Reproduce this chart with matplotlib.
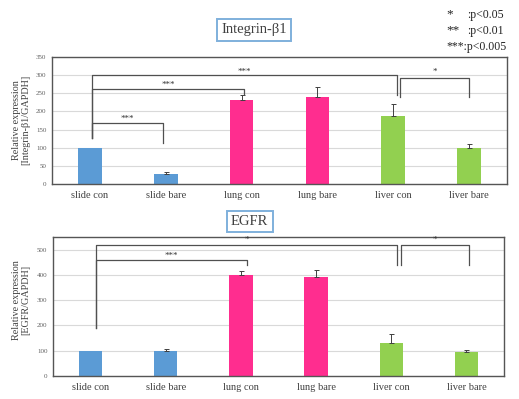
import matplotlib
matplotlib.use("Agg")
import matplotlib.pyplot as plt

categories = ["slide con", "slide bare", "lung con", "lung bare", "liver con", "liver bare"]
colors = ["#5b9bd5", "#5b9bd5", "#ff2d8f", "#ff2d8f", "#92d050", "#92d050"]

itg_values = [100, 28, 231, 240, 188, 99]
itg_err = [0, 6, 13, 27, 32, 10]
egfr_values = [100, 100, 401, 392, 130, 94]
egfr_err = [0, 6, 15, 28, 36, 7]

# brackets: (x1, x2, y_left_start, y_top, y_right_end, label, label_y)
itg_brackets = [
    (0.03, 0.96, 128, 167, 112, "***", 180),
    (0.03, 2.03, 128, 263, 247, "***", 272),
    (0.03, 4.05, 128, 300, 245, "***", 310),
    (4.09, 5.0, 240, 293, 240, "*", 310),
]
egfr_brackets = [
    (0.07, 4.08, 190, 517, 439, "*", 540),
    (0.07, 2.08, 190, 460, 440, "***", 476),
    (4.13, 5.04, 440, 517, 440, "*", 540),
]

serif = ["Liberation Serif", "DejaVu Serif"]
plt.rcParams["font.family"] = serif

fig = plt.figure(figsize=(5.19, 3.99), dpi=100)
ax1 = fig.add_axes([52/519, 1-184/399, 455/519, 127/399])
ax2 = fig.add_axes([53/519, 1-376/399, 451/519, 139/399])

line_c = "#505050"

def draw(ax, vals, errs, ymax, step, brackets):
    x = list(range(len(categories)))
    ax.set_axisbelow(True)
    ax.yaxis.grid(True, color="#d9d9d9", linewidth=0.8)
    ax.bar(x, vals, width=0.31, color=colors, zorder=2)
    ex = [xi for xi, e in zip(x, errs) if e > 0]
    ev = [v for v, e in zip(vals, errs) if e > 0]
    ee = [e for e in errs if e > 0]
    ax.errorbar(ex, ev, yerr=[[0]*len(ee), ee], fmt="none", ecolor="#404040",
                elinewidth=0.7, capsize=1.8, capthick=0.7, zorder=3)
    ax.set_xlim(-0.5, len(categories) - 0.5)
    ax.set_ylim(0, ymax)
    ax.set_yticks(range(0, ymax + 1 if ymax % step == 0 else ymax, step))
    ax.set_xticks(x)
    ax.set_xticklabels(categories, fontsize=7.5, color="#404040")
    ax.tick_params(axis="y", labelsize=5, labelcolor="#606060", length=0, pad=4)
    ax.tick_params(axis="x", length=0, pad=5)
    for s in ax.spines.values():
        s.set_color("#555555")
        s.set_linewidth(1.0)
    for (xa, xb, ya, yt, yb, lab, ly) in brackets:
        ax.plot([xa, xa, xb, xb], [ya, yt, yt, yb], color=line_c, linewidth=0.9, zorder=4)
        ax.text((xa + xb) / 2, ly, lab, ha="center", va="center", fontsize=6.5, color="#333333")

draw(ax1, itg_values, itg_err, 350, 50, itg_brackets)
draw(ax2, egfr_values, egfr_err, 550, 100, egfr_brackets)

box = dict(boxstyle="square,pad=0.3", facecolor="white", edgecolor="#7fb0dc", linewidth=1.4)
fig.text(254/519, 1-30/399, "Integrin-β1", ha="center", va="center", fontsize=10.5,
         color="#404040", bbox=box)
fig.text(249.5/519, 1-221.5/399, "EGFR", ha="center", va="center", fontsize=10.5,
         color="#404040", bbox=box)

fig.text(21/519, 1-120/399, "Relative expression\n[Integrin-β1/GAPDH]", rotation=90,
         ha="center", va="center", fontsize=7.3, color="#404040", linespacing=1.1)
fig.text(21/519, 1-300/399, "Relative expression\n[EGFR/GAPDH]", rotation=90,
         ha="center", va="center", fontsize=7.3, color="#404040", linespacing=1.1)

legend_stars = ["*", "**"]
legend_text = [":p<0.05", ":p<0.01"]
legend_y = [15, 31]
for st, tx, yy in zip(legend_stars, legend_text, legend_y):
    fig.text(446/519, 1-(yy-1)/399, st, ha="left", va="center", fontsize=9.5, color="#222222")
    fig.text(467/519, 1-yy/399, tx, ha="left", va="center", fontsize=8.5, color="#222222")
fig.text(446/519, 1-47/399, "***:p<0.005", ha="left", va="center", fontsize=8.5, color="#222222")

fig.savefig("out.png", dpi=100)
